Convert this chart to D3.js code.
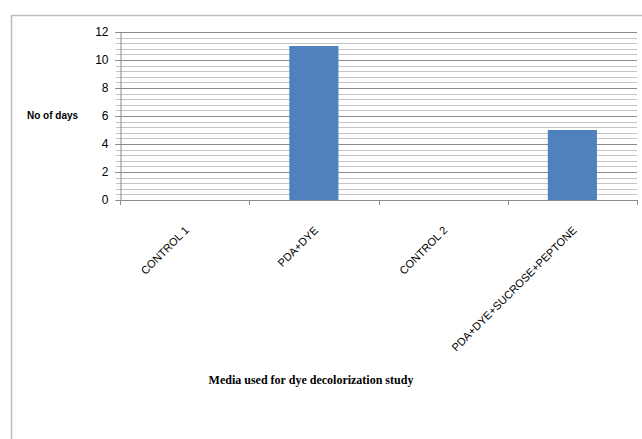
<!DOCTYPE html>
<html lang="en">
<head>
  <meta charset="UTF-8">
  <title>Media used for dye decolorization study</title>
  <script src="https://cdn.jsdelivr.net/npm/d3@7/dist/d3.min.js"></script>
  <style>
    body { margin: 0; background: #fff; }
  </style>
</head>
<body>
  <script>
    // data
    const categories = ['CONTROL 1', 'PDA+DYE', 'CONTROL 2', 'PDA+DYE+SUCROSE+PEPTONE'];
    const days = [0, 11, 0, 5];
    const yTicks = [0, 2, 4, 6, 8, 10, 12];

    const W = 642, H = 439;
    const plotLeft = 120, plotRight = 637, plotTop = 32, plotBottom = 200;

    const svg = d3.select('body').append('svg')
      .attr('width', W).attr('height', H);

    // outer chart frame (open at right and bottom, cut off)
    svg.append('path')
      .attr('d', `M11.5,${H} V15.5 H${W}`)
      .attr('fill', 'none').attr('stroke', '#bdbdbd').attr('stroke-width', 1.5);

    const x = d3.scaleBand().domain(categories).range([plotLeft, plotRight]).padding(0);
    const y = d3.scaleLinear().domain([0, 12]).range([plotBottom, plotTop]);

    // minor gridlines every 0.4
    const minor = d3.range(0, 12.001, 0.4).filter(v => Math.abs(v / 2 - Math.round(v / 2)) > 1e-6);
    svg.append('g').selectAll('line').data(minor).join('line')
      .attr('x1', plotLeft - 4).attr('x2', plotRight)
      .attr('y1', d => Math.round(y(d)) + 0.5).attr('y2', d => Math.round(y(d)) + 0.5)
      .attr('stroke', '#c4c4c4');

    // major gridlines
    svg.append('g').selectAll('line').data(yTicks.slice(1)).join('line')
      .attr('x1', plotLeft - 5).attr('x2', plotRight)
      .attr('y1', d => Math.round(y(d)) + 0.5).attr('y2', d => Math.round(y(d)) + 0.5)
      .attr('stroke', '#8c8c8c');

    // bars
    svg.append('g').selectAll('rect').data(categories).join('rect')
      .attr('x', d => x(d) + x.bandwidth() * 0.31)
      .attr('width', x.bandwidth() * 0.38)
      .attr('y', (d, i) => y(days[i]))
      .attr('height', (d, i) => y(0) - y(days[i]))
      .attr('fill', '#4f81bd');

    // y axis
    const yAxis = d3.axisLeft(y).tickValues(yTicks).tickSize(5).tickPadding(7);
    const gy = svg.append('g').attr('transform', `translate(${plotLeft + 0.5},0)`).call(yAxis);
    gy.select('.domain').attr('stroke', '#8c8c8c');
    gy.selectAll('.tick line').attr('stroke', '#8c8c8c');
    gy.selectAll('text')
      .attr('font-family', 'Liberation Sans, Arial, sans-serif')
      .attr('font-size', 12).attr('fill', '#000');

    // x axis line and boundary ticks
    svg.append('line')
      .attr('x1', plotLeft).attr('x2', plotRight)
      .attr('y1', plotBottom + 0.5).attr('y2', plotBottom + 0.5)
      .attr('stroke', '#8c8c8c').attr('stroke-width', 1.2);
    svg.append('g').selectAll('line').data(categories.concat(['end'])).join('line')
      .attr('x1', (d, i) => Math.round(plotLeft + i * x.step()) + 0.5)
      .attr('x2', (d, i) => Math.round(plotLeft + i * x.step()) + 0.5)
      .attr('y1', plotBottom).attr('y2', plotBottom + 5)
      .attr('stroke', '#8c8c8c');

    // rotated category labels
    svg.append('g').selectAll('text').data(categories).join('text')
      .attr('transform', d => `translate(${x(d) + x.bandwidth() / 2 + 5},231) rotate(-45)`)
      .attr('text-anchor', 'end')
      .attr('font-family', 'Liberation Sans, Arial, sans-serif')
      .attr('font-size', 11)
      .text(d => d);

    // axis titles
    svg.append('text')
      .attr('x', 27).attr('y', 119)
      .attr('font-family', 'Liberation Sans, Arial, sans-serif')
      .attr('font-size', 10).attr('font-weight', 'bold')
      .text('No of days');

    svg.append('text')
      .attr('x', 311).attr('y', 384)
      .attr('text-anchor', 'middle')
      .attr('font-family', 'Liberation Serif, Times New Roman, serif')
      .attr('font-size', 12).attr('font-weight', 'bold')
      .text('Media used for dye decolorization study');
  </script>
</body>
</html>
